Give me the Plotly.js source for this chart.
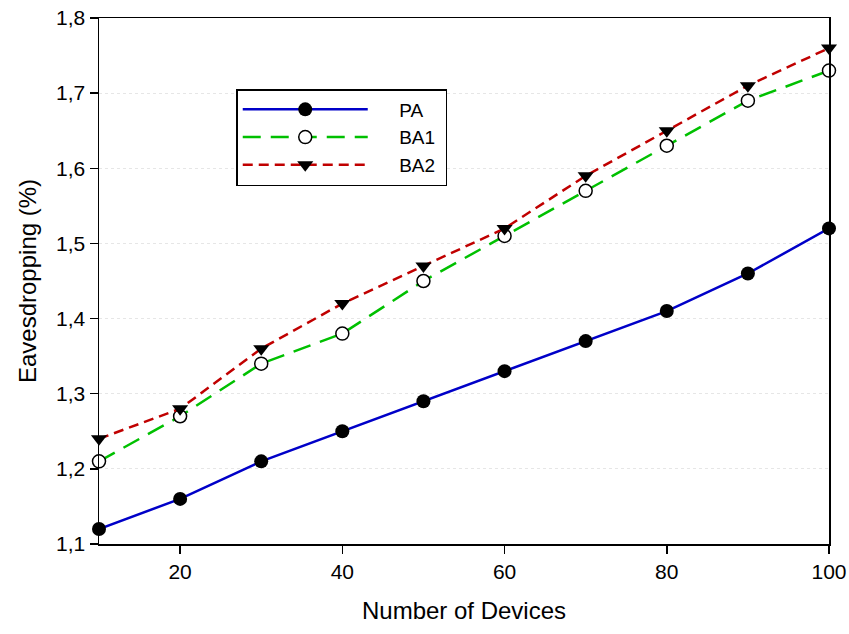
<!DOCTYPE html>
<html><head><meta charset="utf-8">
<script src="https://cdn.plot.ly/plotly-3.0.1.min.js"></script>
<style>body{margin:0;background:#fff}#c{width:849px;height:634px}</style>
</head><body><div id="c"></div>
<script>
const devices = [10,20,30,40,50,60,70,80,90,100];
const pa  = [1.12,1.16,1.21,1.25,1.29,1.33,1.37,1.41,1.46,1.52];
const ba1 = [1.21,1.27,1.34,1.38,1.45,1.51,1.57,1.63,1.69,1.73];
const ba2 = [1.24,1.28,1.36,1.42,1.47,1.52,1.59,1.65,1.71,1.76];
const names = ['PA','BA1','BA2'];
const xTicks = [20,40,60,80,100];
const yTicks = [1.1,1.2,1.3,1.4,1.5,1.6,1.7,1.8];

const pad = n => '\u00a0\u00a0\u00a0\u00a0\u00a0' + n + '\u00a0';
const traces = [
 {x:devices,y:pa,name:pad(names[0]),mode:'lines+markers',cliponaxis:false,
  line:{color:'#0000c8',width:2.5},marker:{symbol:'circle',size:14,color:'#000'}},
 {x:devices,y:ba1,name:pad(names[1]),mode:'lines+markers',cliponaxis:false,
  line:{color:'#00c000',width:2.5,dash:'18px,10px'},marker:{symbol:'circle',size:13,color:'#fff',line:{color:'#000',width:1.5}}},
 {x:devices,y:ba2,name:pad(names[2]),mode:'lines+markers',cliponaxis:false,
  line:{color:'#c00000',width:2.5,dash:'10px,6px'},marker:{symbol:'triangle-down',size:14,color:'#000'}}
];
const font = {family:'Arial, "Liberation Sans", sans-serif',color:'#000'};
const f = s => Object.assign({size:s},font);
const layout = {
 width:849,height:634,separators:',.',
 margin:{l:99,r:20,t:18,b:90},
 paper_bgcolor:'#fff',plot_bgcolor:'#fff',
 font:f(19),
 showlegend:true,
 legend:{x:0.188,y:0.865,xanchor:'left',yanchor:'top',bordercolor:'#000',borderwidth:1.5,
   font:f(19),itemwidth:125,tracegroupgap:0,bgcolor:'#fff'},
 xaxis:{range:[10,100],tickvals:xTicks,ticks:'outside',ticklen:8,tickwidth:1.5,tickcolor:'#000',
   showline:true,linecolor:'#000',linewidth:1.5,mirror:true,showgrid:false,zeroline:false,
   tickfont:f(21),
   title:{text:'Number of Devices',font:f(24),standoff:20}},
 yaxis:{range:[1.1,1.8],tickvals:yTicks,tickformat:'.1f',ticks:'outside',ticklen:8,tickwidth:1.5,tickcolor:'#000',
   showline:true,linecolor:'#000',linewidth:1.5,mirror:true,showgrid:true,gridcolor:'#e6e6e6',griddash:'dot',gridwidth:1,zeroline:false,
   tickfont:f(21),
   title:{text:'Eavesdropping (%)',font:f(24),standoff:12}}
};
Plotly.newPlot('c',traces,layout,{displayModeBar:false,staticPlot:true});
</script></body></html>
